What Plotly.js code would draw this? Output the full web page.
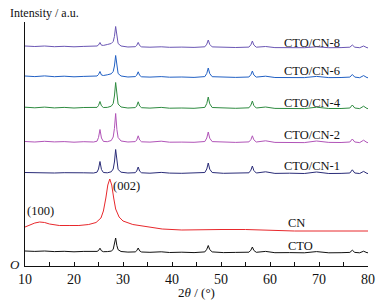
<!DOCTYPE html>
<html>
<head>
<meta charset="utf-8">
<script src="https://cdn.plot.ly/plotly-3.0.1.min.js"></script>
<style>html,body{margin:0;padding:0;background:#fff;}#chart{width:385px;height:300px;}</style>
</head>
<body>
<div id="chart"></div>
<script>
// 2θ positions shared by the CTO-containing patterns
const twoTheta = [10,12,14,16,18,20,22,24,24.7,25.0,25.3,25.6,26.0,26.8,27.6,28.0,28.25,28.5,28.75,29.0,29.6,31.0,32.5,32.8,33.1,33.4,33.8,35.5,37.8,39.5,42,44.5,46.7,47.1,47.4,47.7,48.2,50.5,53,55.7,56.1,56.4,56.7,57.2,59.1,61,64,67,69.5,72,74.5,76.3,76.8,77.3,78.3,79.1,79.8,80];

// intensities (a.u., relative to each pattern's own baseline)
const cto = [2.0,1.6,2.0,1.4,1.7,1.2,1.6,1.2,1.6,2.4,4.8,2.2,1.3,1.4,1.9,3.6,8.0,15.0,7.4,3.3,1.5,0.9,1.1,2.3,5.0,2.1,1.0,0.7,1.2,0.5,0.8,0.4,1.1,3.7,7.5,3.4,1.1,0.4,0.6,0.8,2.8,6.0,2.6,0.7,1.6,0.3,0.4,0.2,1.4,0.2,0.3,0.6,2.8,0.6,0.2,1.8,0.3,0.3];
const ctoCn1 = [1.5,1.2,1.6,1.0,1.3,0.9,1.2,1.0,1.8,5.0,12.5,4.5,1.5,1.2,2.2,5.0,12.0,24.5,11.0,4.5,1.8,1.0,1.3,3.0,7.0,2.8,1.2,0.8,1.6,0.9,0.7,1.0,1.5,5.0,11.0,4.8,1.5,0.7,0.9,1.2,3.8,8.0,3.5,1.0,2.2,0.6,0.8,0.5,2.0,0.5,0.6,1.0,4.2,1.0,0.5,2.6,0.6,0.5];
const ctoCn2 = [1.5,1.0,1.7,1.1,1.4,0.8,1.3,1.0,1.8,5.5,13.5,5.0,1.6,1.3,2.5,6.0,14.5,29.5,13.5,5.5,2.0,1.0,1.4,3.0,7.2,3.0,1.2,0.9,1.8,0.8,0.9,0.7,1.5,5.0,11.0,4.8,1.4,0.8,0.6,1.1,3.3,7.2,3.2,1.0,2.2,0.6,0.8,0.4,2.0,0.6,0.5,1.0,4.0,1.0,0.4,2.8,0.5,0.4];
const ctoCn4 = [1.8,1.2,1.9,1.1,1.6,1.0,1.5,1.2,1.6,3.5,7.5,3.2,1.5,1.6,2.8,5.5,13.0,26.5,12.0,5.0,2.0,1.0,1.4,3.0,7.2,3.0,1.3,0.9,1.6,0.8,1.0,0.7,1.6,5.5,12.0,5.2,1.5,0.8,0.7,1.2,3.8,8.0,3.5,1.0,2.0,0.6,0.7,0.4,1.8,0.5,0.5,1.0,4.0,1.0,0.4,2.8,0.5,0.4];
const ctoCn6 = [2.0,1.4,2.1,1.3,1.8,1.2,1.6,1.5,2.0,3.5,6.5,3.0,2.5,3.2,4.2,6.5,12.0,22.5,10.5,4.5,2.0,1.0,1.4,2.8,6.2,2.6,1.2,0.9,1.4,0.8,1.0,0.6,1.4,4.6,10.0,4.4,1.3,0.7,0.6,1.0,3.3,7.0,3.0,0.9,1.8,0.5,0.6,0.4,1.6,0.4,0.5,0.9,3.5,0.9,0.3,2.4,0.4,0.3];
const ctoCn8 = [2.0,1.5,2.0,1.3,1.7,1.2,1.6,1.4,2.0,3.0,5.5,2.8,2.6,3.5,4.5,6.5,11.5,21.5,10.0,4.5,2.0,1.0,1.3,2.6,5.6,2.4,1.1,0.8,1.2,0.7,0.9,0.6,1.2,3.8,8.0,3.6,1.1,0.6,0.5,0.9,3.2,7.0,3.0,0.8,1.5,0.4,0.5,0.3,1.2,0.3,0.4,0.8,3.0,0.8,0.3,2.0,0.3,0.2];

// g-C3N4 (CN) pattern
const cnTheta = [10,11,12,13,14,15,17,19,21,23,24.5,25.5,26.0,26.5,26.9,27.3,27.7,28.1,28.5,29.2,30,32,35,38,42,46,50,55,60,65,70,75,80];
const cnI = [0,2,4,5,4.5,3,1.5,1.5,1.5,2.5,4.5,9,16,29,42,48,42,29,18,10,6,2.5,0,-2,-3,-2.5,-2.5,-2.5,-3.5,-4,-4,-4,-4];

const seriesNames = ['CTO','CN','CTO/CN-1','CTO/CN-2','CTO/CN-4','CTO/CN-6','CTO/CN-8'];
const seriesX = [twoTheta, cnTheta, twoTheta, twoTheta, twoTheta, twoTheta, twoTheta];
const seriesY = [cto, cnI, ctoCn1, ctoCn2, ctoCn4, ctoCn6, ctoCn8];
const stackOffsets = [13, 39, 92, 123, 157, 188, 218];
const seriesColors = ['#111111','#e8282c','#2a2c78','#b154b8','#2e8b40','#2160c4','#6a56b4'];
const labelPos = [[66.3,20],[65.5,43],[68.6,100],[68.6,131],[68.6,163],[68.6,195],[68.6,223]];

const xTicks = [10,20,30,40,50,60,70,80];

const serif = '"Liberation Serif", "Times New Roman", serif';

const traces = seriesNames.map((name, i) => ({
  x: seriesX[i],
  y: seriesY[i].map(v => v + stackOffsets[i]),
  type: 'scatter',
  mode: 'lines',
  name: name,
  line: {color: seriesColors[i], width: 1},
  hoverinfo: 'skip'
}));

const annotations = seriesNames.map((name, i) => ({
  x: labelPos[i][0], y: labelPos[i][1], xref: 'x', yref: 'y',
  text: name, showarrow: false, xanchor: 'center', yanchor: 'middle',
  font: {family: serif, size: 12.5, color: '#111'}
}));
annotations.push(
  {x: 30.8, y: 80, xref: 'x', yref: 'y', text: '(002)', showarrow: false,
   font: {family: serif, size: 12.5, color: '#111'}},
  {x: 13.2, y: 55, xref: 'x', yref: 'y', text: '(100)', showarrow: false,
   font: {family: serif, size: 12.5, color: '#111'}},
  {x: 10, y: 0, xref: 'x', yref: 'y', text: '<i>O</i>', showarrow: false,
   xanchor: 'right', yanchor: 'middle', xshift: -3, yshift: 2,
   font: {family: serif, size: 13, color: '#111'}},
  {x: -0.05, y: 1.037, xref: 'paper', yref: 'paper', text: 'Intensity / a.u.',
   showarrow: false, xanchor: 'left', yanchor: 'middle',
   font: {family: serif, size: 12, color: '#111'}},
  {x: 10, y: 245, xref: 'x', yref: 'y', ax: 0, ay: 14, text: '',
   showarrow: true, arrowhead: 2, arrowsize: 1, arrowwidth: 1, arrowcolor: '#111'}
);

const layout = {
  width: 385, height: 300,
  margin: {l: 25, r: 17, t: 22, b: 34, pad: 0},
  paper_bgcolor: '#fff', plot_bgcolor: '#fff',
  showlegend: false,
  font: {family: serif, color: '#111'},
  xaxis: {
    range: [10, 80], showline: true, linecolor: '#111', linewidth: 1,
    ticks: 'inside', ticklen: 4, tickcolor: '#111', tickwidth: 1,
    tickvals: xTicks, ticktext: xTicks.map(String),
    minor: {ticks: 'inside', dtick: 5, tick0: 10, ticklen: 4, tickcolor: '#111'},
    showgrid: false, zeroline: false,
    tickfont: {family: serif, size: 14, color: '#111'},
    title: {text: '2<i>θ</i> / (°)', font: {family: serif, size: 13, color: '#111'}, standoff: 3}
  },
  yaxis: {
    range: [0, 244], showline: true, linecolor: '#111', linewidth: 1,
    showticklabels: false, ticks: '', showgrid: false, zeroline: false
  },
  annotations: annotations
};

Plotly.newPlot('chart', traces, layout, {staticPlot: true, displayModeBar: false});
</script>
</body>
</html>
